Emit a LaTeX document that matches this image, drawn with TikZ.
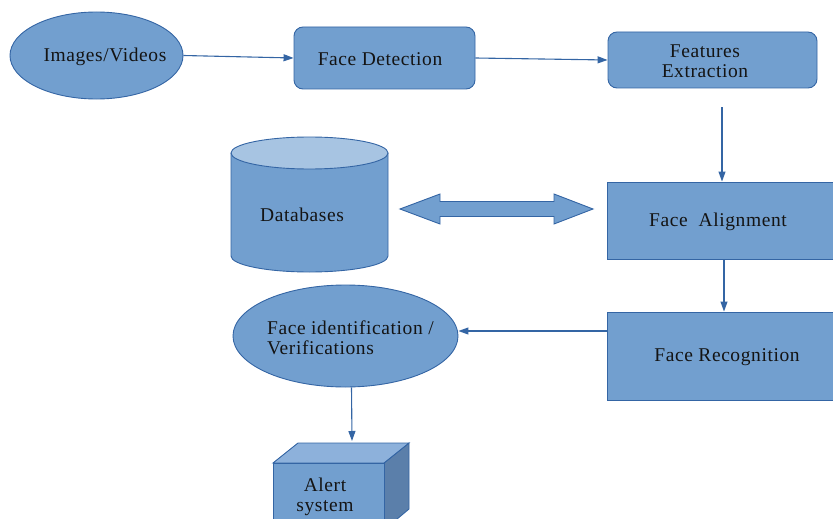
\documentclass[tikz,border=0pt]{standalone}
\usepackage{fontspec}
\setmainfont{Liberation Serif}[LetterSpace=3]
\usetikzlibrary{arrows.meta,shapes.geometric}
\definecolor{boxfill}{HTML}{729FCF}
\definecolor{boxline}{HTML}{3465A4}
\definecolor{lighttop}{HTML}{A7C4E2}
\definecolor{cubetop}{HTML}{8DB1DB}
\definecolor{cubeside}{HTML}{5B7FAA}
\definecolor{ink}{HTML}{141414}
\tikzset{
  shapebase/.style={fill=boxfill, draw=boxline, line width=0.9pt,
    inner sep=0pt},
  roundbox/.style={shapebase, rectangle, rounded corners=9pt},
  plainbox/.style={shapebase, rectangle},
  oval/.style={shapebase, ellipse},
  flow/.style={draw=boxline, line width=1.1pt,
    -{Triangle[length=10pt,width=7pt]}},
  lbl/.style={text=ink, font=\fontsize{19.5}{20}\selectfont, inner sep=0pt, align=center},
}
\begin{document}
\begin{tikzpicture}[x=1pt,y=-1pt]
\useasboundingbox (0,0) rectangle (833,519);

% process nodes
\node[oval, minimum width=173pt, minimum height=87pt] (img) at (96.5,55.5) {};
\node[lbl] at (105,57) {Images/Videos};

\node[roundbox, minimum width=181pt, minimum height=62pt] (fd) at (384.5,58) {};
\node[lbl] at (380,59) {Face Detection};

\node[roundbox, minimum width=209pt, minimum height=56pt] (fe) at (712.5,60) {};
\node[lbl] at (705,61) {Features\\Extraction};

\node[plainbox, minimum width=230pt, minimum height=77pt] (fa) at (722,220.5) {};
\node[lbl] at (718,222) {Face\ \ Alignment};

\node[plainbox, minimum width=230pt, minimum height=88pt] (fr) at (722,356) {};
\node[lbl] at (727,357) {Face Recognition};

\node[oval, minimum width=225pt, minimum height=102pt] (fi) at (345.5,336) {};
\node[lbl, align=left, anchor=west] at (267,338) {Face identification /\\Verifications};

% database cylinder
\fill[boxfill] (231,153) -- (231,256) arc[start angle=180,end angle=0,x radius=78.5,y radius=16]
  -- (388,153) -- cycle;
\draw[boxline, line width=0.9pt] (231,153) -- (231,256)
  arc[start angle=180,end angle=0,x radius=78.5,y radius=16] -- (388,153);
\draw[boxline, line width=0.9pt, fill=lighttop] (309.5,153) ellipse[x radius=78.5, y radius=16];
\node[lbl] (dbl) at (302,215) {Databases};

% two-way block arrow
\draw[boxline, line width=0.9pt, fill=boxfill]
  (400,209) -- (440,194) -- (440,201.5) -- (554,201.5) -- (554,194) -- (593,209)
  -- (554,224) -- (554,216.5) -- (440,216.5) -- (440,224) -- cycle;

% alert cube
\begin{scope}
\clip (0,0) rectangle (833,519);
\draw[boxline, line width=0.9pt, fill=cubeside] (384,463) -- (409,443) -- (409,509) -- (384,530) -- cycle;
\draw[boxline, line width=0.9pt, fill=cubetop] (273,463) -- (298,443) -- (409,443) -- (384,463) -- cycle;
\draw[boxline, line width=0.9pt, fill=boxfill] (273,463) rectangle (384,540);
\end{scope}
\coordinate (alert) at (352,441);
\node[lbl] at (325,497) {Alert\\system};

% connectors
\draw[flow] (img.east) -- (fd.west);
\draw[flow] (fd.east) -- (fe.west);
\draw[flow, shorten <=19pt] (fe.south -| fa.north) -- (fa.north);
\draw[flow] ([xshift=2pt]fa.south) -- ([xshift=2pt]fr.north);
\draw[flow] ([yshift=5pt]fr.west |- fi.east) -- ([yshift=5pt]fi.east);
\draw[flow] ([xshift=6pt]fi.south) -- (alert);
\end{tikzpicture}
\end{document}
